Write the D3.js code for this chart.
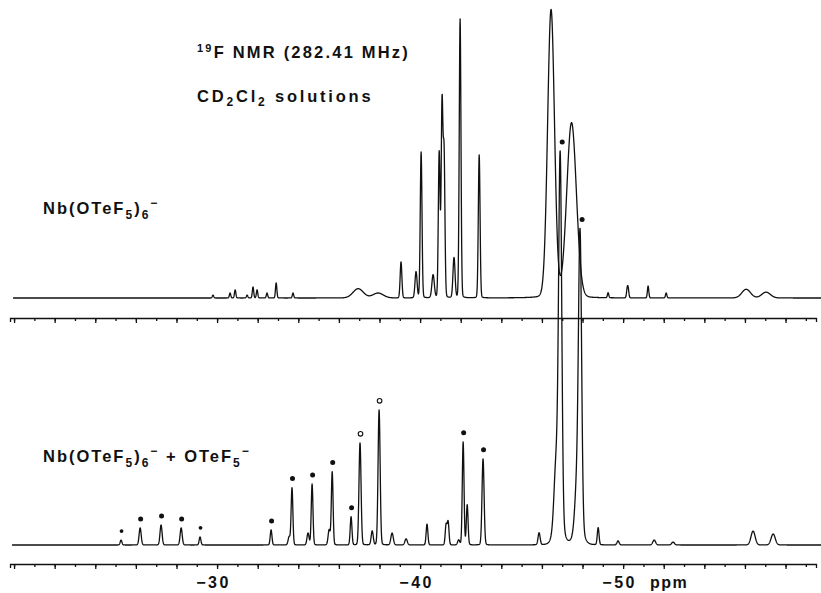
<!DOCTYPE html>
<html>
<head>
<meta charset="utf-8">
<script src="https://cdn.jsdelivr.net/npm/d3@7"></script>
<style>
body { margin: 0; background: #fff; }
svg { display: block; }
.lbl { font-family: "Liberation Sans", Arial, sans-serif; font-weight: bold; fill: #111; }
</style>
</head>
<body>
<svg id="chart" width="821" height="593"></svg>
<script>
// 19F spectra: [shift (ppm), relative height, half width (ppm)]
var topPeaks = [
  [-29.80, 1.0, 0.04], [-30.64, 1.7, 0.04], [-30.89, 2.8, 0.04], [-31.48, 1.0, 0.04],
  [-31.77, 3.8, 0.04], [-31.97, 2.8, 0.04], [-32.46, 1.7, 0.04], [-32.91, 5.2, 0.04],
  [-33.74, 1.7, 0.04], [-36.95, 3.2, 0.30], [-37.93, 1.7, 0.30], [-39.06, 12.4, 0.05],
  [-39.80, 9.0, 0.06], [-40.05, 50.3, 0.05], [-40.64, 7.9, 0.07], [-40.94, 50.0, 0.05],
  [-41.08, 66.2, 0.05], [-41.18, 48.6, 0.05], [-41.67, 13.8, 0.06], [-41.97, 96.2, 0.05],
  [-42.91, 49.3, 0.05], [-46.45, 99.3, 0.20], [-47.46, 60.3, 0.28], [-49.26, 1.7, 0.04],
  [-50.20, 2.8, 0.04], [-50.25, 2.8, 0.04], [-51.23, 4.1, 0.04], [-52.12, 1.7, 0.04],
  [-56.06, 3.0, 0.25], [-57.04, 2.0, 0.25]
];

// [shift (ppm), relative height, half width (ppm), marker]
var bottomPeaks = [
  [-25.27, 1.7, 0.05, "dot"], [-26.21, 5.9, 0.06, "dot"], [-27.24, 6.9, 0.06, "dot"],
  [-28.23, 5.9, 0.06, "dot"], [-29.16, 2.8, 0.05, "dot"], [-32.66, 5.2, 0.05, "dot"],
  [-33.55, 2.8, 0.06, null], [-33.69, 19.7, 0.05, "dot"], [-34.48, 4.1, 0.06, null],
  [-34.68, 21.0, 0.05, "dot"], [-35.52, 5.2, 0.06, null], [-35.67, 25.2, 0.05, "dot"],
  [-36.60, 9.7, 0.05, "dot"], [-37.04, 35.2, 0.06, "ring"], [-37.64, 4.8, 0.06, null],
  [-37.98, 46.6, 0.06, "ring"], [-38.62, 4.1, 0.07, null], [-39.31, 2.1, 0.07, null],
  [-40.34, 7.2, 0.05, null], [-41.28, 6.9, 0.05, null], [-41.38, 7.9, 0.05, null],
  [-41.90, 1.7, 0.06, null], [-42.12, 35.5, 0.05, "dot"], [-42.32, 13.8, 0.05, null],
  [-43.10, 29.7, 0.06, "dot"], [-45.86, 4.1, 0.06, null],
  [-46.70, 22, 0.12, null], [-46.82, 8, 0.25, null], [-46.90, 125, 0.09, "dot"],
  [-47.73, 16, 0.12, null], [-47.80, 6, 0.25, null], [-47.88, 98, 0.09, "dot"],
  [-48.77, 5.9, 0.05, null], [-49.75, 1.4, 0.06, null], [-51.53, 1.7, 0.08, null],
  [-52.46, 1.0, 0.08, null], [-56.40, 4.8, 0.12, null], [-57.39, 3.8, 0.12, null]
];

var minorTicks = d3.range(-20, -60, -1);
var majorTicks = d3.range(-20, -60, -2);
var tickLabels = [-30, -40, -50];

var svg = d3.select("#chart");
svg.append("rect").attr("width", 821).attr("height", 593).attr("fill", "#fff");

var x = d3.scaleLinear().domain([-19.8, -59.5]).range([10, 816]);
var yTop = d3.scaleLinear().domain([0, 100]).range([298, 8]);
var yBot = d3.scaleLinear().domain([0, 100]).range([545, 255]);

function intensity(peaks, d) {
  var s = 0;
  peaks.forEach(function(p) {
    var t = (d - p[0]) / p[2];
    s += p[1] * (0.95 * Math.exp(-Math.LN2 * t * t) + 0.05 / (1 + t * t));
  });
  return s;
}

function trace(peaks, from, to) {
  var pts = [];
  for (var d = from; d >= to; d -= 0.01) pts.push(d);
  peaks.forEach(function(p) { pts.push(p[0]); });
  pts.sort(function(a, b) { return b - a; });
  return pts.map(function(d) { return [d, intensity(peaks, d)]; });
}

// axes (bottom with labels, middle one between the two traces)
function drawAxis(yPos, labels) {
  var g = svg.append("g").attr("transform", "translate(0," + yPos + ")");
  g.append("g").call(d3.axisBottom(x).tickValues(minorTicks).tickSize(3).tickSizeOuter(4).tickFormat(""));
  var maj = g.append("g").call(d3.axisBottom(x).tickValues(majorTicks).tickSize(5).tickSizeOuter(0)
      .tickPadding(8)
      .tickFormat(function(d) { return labels && tickLabels.indexOf(d) >= 0 ? "\u2212" + Math.abs(d) : ""; }));
  maj.select(".domain").remove();
  g.selectAll("path, line").attr("stroke", "#111").attr("stroke-width", 1.3);
  maj.selectAll("text").attr("class", "lbl").attr("font-size", 16).attr("letter-spacing", 2.5)
      .attr("dx", -4).attr("font-family", null);
  return g;
}
drawAxis(318, false);
drawAxis(564, true);
svg.append("text").attr("class", "lbl").attr("x", 650).attr("y", 588)
    .attr("font-size", 16).attr("letter-spacing", 1.5).text("ppm");

var lineTop = d3.line().x(function(d) { return x(d[0]); }).y(function(d) { return yTop(d[1]); });
var lineBot = d3.line().x(function(d) { return x(d[0]); }).y(function(d) { return yBot(d[1]); });

svg.append("path").datum(trace(topPeaks, -19.95, -59.9)).attr("d", lineTop)
    .attr("fill", "none").attr("stroke", "#111").attr("stroke-width", 1.3).attr("stroke-linejoin", "round");
svg.append("path").datum(trace(bottomPeaks, -19.9, -59.9)).attr("d", lineBot)
    .attr("fill", "none").attr("stroke", "#111").attr("stroke-width", 1.3).attr("stroke-linejoin", "round");

// assignment markers above bottom-trace peaks
var marked = bottomPeaks.filter(function(p) { return p[3]; });
svg.selectAll(".mark").data(marked).enter().append("circle")
    .attr("class", "mark")
    .attr("cx", function(p) { return x(p[0]) + (p[1] > 80 ? 2 : 0.5); })
    .attr("cy", function(p) { return yBot(intensity(bottomPeaks, p[0])) - 9; })
    .attr("r", function(p) { return p[3] === "ring" ? 2.3 : (p[1] < 3 ? 1.9 : 2.5); })
    .attr("fill", function(p) { return p[3] === "ring" ? "#fff" : "#111"; })
    .attr("stroke", "#111").attr("stroke-width", function(p) { return p[3] === "ring" ? 1.1 : 0; });

// text labels: [text, font size, dy]
function label(xp, yp, spacing, parts) {
  var t = svg.append("text").attr("class", "lbl").attr("x", xp).attr("y", yp).attr("letter-spacing", spacing);
  parts.forEach(function(p) {
    t.append("tspan").attr("font-size", p[1]).attr("dy", p[2]).text(p[0]);
  });
}
label(197, 58, 2.2, [["19", 11, -6], ["F NMR (282.41 MHz)", 16.5, 6]]);
label(197, 102, 2.8, [["CD", 16.5, 0], ["2", 12, 4], ["Cl", 16.5, -4], ["2", 12, 4], [" solutions", 16.5, -4]]);
label(43, 214, 2, [["Nb(OTeF", 16.5, 0], ["5", 12, 5], [")", 16.5, -5], ["6", 12, 5], ["\u2212", 12, -12]]);
label(43, 462, 2, [["Nb(OTeF", 16.5, 0], ["5", 12, 5], [")", 16.5, -5], ["6", 12, 5], ["\u2212", 12, -12],
  [" + OTeF", 16.5, 7], ["5", 12, 5], ["\u2212", 12, -12]]);
</script>
</body>
</html>
